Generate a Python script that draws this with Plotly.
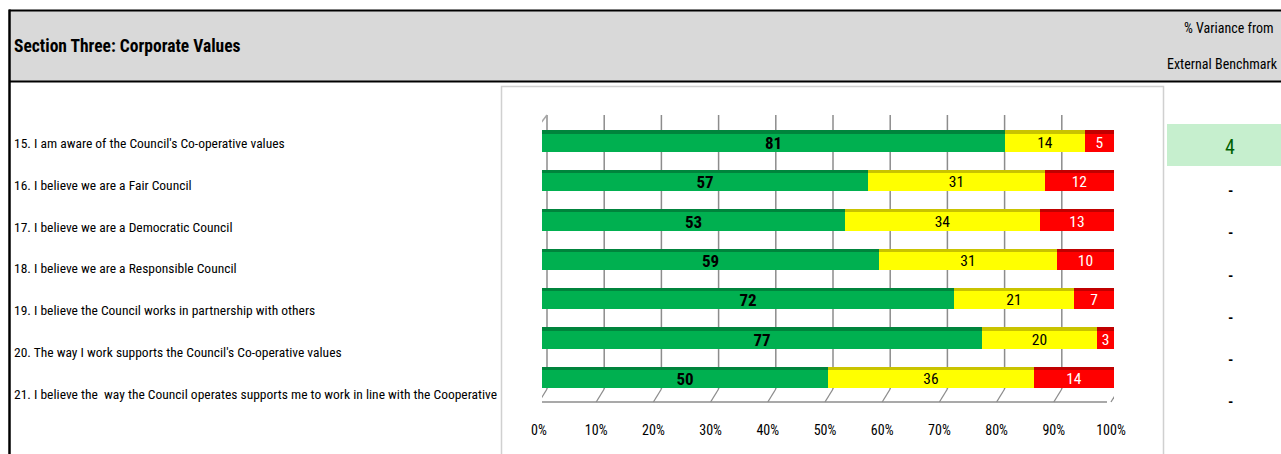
import plotly.graph_objects as go

# ---- survey results (percent of respondents) ----
questions = [
    "15. I am aware of the Council's Co-operative values",
    "16. I believe we are a Fair Council",
    "17. I believe we are a Democratic Council",
    "18. I believe we are a Responsible Council",
    "19. I believe the Council works in partnership with others",
    "20. The way I work supports the Council's Co-operative values",
    "21. I believe the  way the Council operates supports me to work in line with the Cooperative",
]
agree = [81, 57, 53, 59, 72, 77, 50]
neutral = [14, 31, 34, 31, 21, 20, 36]
disagree = [5, 12, 13, 10, 7, 3, 14]
variance = ["4", "-", "-", "-", "-", "-", "-"]
tick_values = [0, 10, 20, 30, 40, 50, 60, 70, 80, 90, 100]
tick_labels = ["0%", "10%", "20%", "30%", "40%", "50%", "60%", "70%", "80%", "90%", "100%"]

title = "Section Three: Corporate Values"
bench_head = ["% Variance from", "External Benchmark"]

# ---- page geometry helpers (pixels -> paper) ----
W, H = 1281, 454
FONT = "Roboto Condensed, Liberation Sans Narrow, DejaVu Sans Condensed, sans-serif"


def px(x):
    return x / W


def py(y):
    return 1 - y / H


rows = list(range(len(questions)))
row_top, row_pitch = 143.0, 39.4      # bar centre of first row / spacing (px)
face_half, strip_w = 0.23, 0.08       # bar half-height and top-bevel thickness (data units)

base_neutral = [a for a in agree]
base_disagree = [a + n for a, n in zip(agree, neutral)]
totals = [a + n + d for a, n, d in zip(agree, neutral, disagree)]

fig = go.Figure()

segments = [
    (agree, [0] * len(agree), "#00b050", "#00843c", dict(color="black", size=17, family=FONT, weight="bold")),
    (neutral, base_neutral, "#ffff00", "#c9c300", dict(color="black", size=15.5, family=FONT)),
    (disagree, base_disagree, "#ff0000", "#c00000", dict(color="white", size=15.5, family=FONT)),
]

for vals, base, face, edge, tfont in segments:
    # bevelled top edge
    fig.add_trace(go.Bar(
        orientation="h", y=rows, x=vals, base=base,
        offset=-face_half - strip_w, width=strip_w,
        marker=dict(color=edge, line=dict(width=0)),
        hoverinfo="skip", showlegend=False,
    ))
    # front face with value label
    fig.add_trace(go.Bar(
        orientation="h", y=rows, x=vals, base=base,
        offset=-face_half, width=2 * face_half,
        marker=dict(color=face, line=dict(width=0)),
        text=[str(v) for v in vals], textposition="inside",
        insidetextanchor="middle", textangle=0, constraintext="none",
        textfont=tfont, showlegend=False,
    ))

# dark side face at the end of each stacked bar
fig.add_trace(go.Bar(
    orientation="h", y=rows, x=[0.5] * len(rows), base=totals,
    offset=-face_half - strip_w, width=2 * face_half + strip_w,
    marker=dict(color="#a00000", line=dict(width=0)),
    hoverinfo="skip", showlegend=False,
))

# ---- decorative shapes: sheet header, chart frame, 3-D walls ----
shapes = []
# header band
shapes.append(dict(type="rect", xref="paper", yref="paper", x0=px(10), x1=px(1281), y0=py(81), y1=py(10),
                   fillcolor="#d9d9d9", line=dict(width=0), layer="below"))
shapes.append(dict(type="line", xref="paper", yref="paper", x0=px(9), x1=px(1281), y0=py(10.5), y1=py(10.5),
                   line=dict(color="black", width=2), layer="below"))
shapes.append(dict(type="line", xref="paper", yref="paper", x0=px(9), x1=px(1281), y0=py(81.5), y1=py(81.5),
                   line=dict(color="black", width=2), layer="below"))
shapes.append(dict(type="line", xref="paper", yref="paper", x0=px(9.5), x1=px(9.5), y0=py(9.5), y1=py(460),
                   line=dict(color="black", width=2.5), layer="below"))
# chart frame
shapes.append(dict(type="rect", xref="paper", yref="paper", x0=px(501.5), x1=px(1163.5), y0=py(470), y1=py(86.5),
                   fillcolor="white", line=dict(color="#d0d0d0", width=1.5), layer="below"))
# benchmark highlight cell
shapes.append(dict(type="rect", xref="paper", yref="paper", x0=px(1167), x1=px(1290), y0=py(166), y1=py(124),
                   fillcolor="#c6efce", line=dict(width=0), layer="below"))

GRID = "#8c8c8c"
back_top, back_bot, front_y = 115, 389, 402
for k in tick_values:
    is_edge = k == tick_values[-1]
    shapes.append(dict(type="line", xref="x", xsizemode="pixel", xanchor=k, x0=5, x1=5,
                       yref="paper", y0=py(back_bot), y1=py(back_top),
                       line=dict(color="#a6a6a6" if is_edge else GRID, width=2.2 if is_edge else 1.5),
                       layer="below"))
    shapes.append(dict(type="line", xref="x", xsizemode="pixel", xanchor=k, x0=5, x1=-3,
                       yref="paper", y0=py(back_bot), y1=py(front_y),
                       line=dict(color=GRID, width=1.3), layer="below"))
# floor front edge
shapes.append(dict(type="line", xref="x", xsizemode="pixel", xanchor=0, x0=-3, x1=565,
                   yref="paper", y0=py(front_y), y1=py(front_y),
                   line=dict(color=GRID, width=1.5), layer="below"))
# left wall front edge and its top bevel
shapes.append(dict(type="line", xref="x", xsizemode="pixel", xanchor=0, x0=-2, x1=-2,
                   yref="paper", y0=py(front_y), y1=py(124),
                   line=dict(color="#a6a6a6", width=1.5), layer="below"))
shapes.append(dict(type="line", xref="x", xsizemode="pixel", xanchor=0, x0=-2, x1=5,
                   yref="paper", y0=py(124), y1=py(back_top),
                   line=dict(color="#a6a6a6", width=1.5), layer="below"))

# ---- text cells ----
ann = []
ann.append(dict(text=title, x=px(12), y=py(46), xref="paper", yref="paper", xanchor="left", yanchor="middle",
                showarrow=False, font=dict(family=FONT, size=17.5, color="black", weight="bold")))
ann.append(dict(text=bench_head[0], x=px(1229), y=py(28), xref="paper", yref="paper",
                xanchor="center", yanchor="middle", showarrow=False,
                font=dict(family=FONT, size=14, color="black")))
ann.append(dict(text=bench_head[1], x=px(1280), y=py(64), xref="paper", yref="paper",
                xanchor="right", yanchor="middle", showarrow=False,
                font=dict(family=FONT, size=14, color="black")))
for i, q in enumerate(questions):
    ann.append(dict(text=q, x=px(12), y=py(143 + 41.8 * i), xref="paper", yref="paper",
                    xanchor="left", yanchor="middle", showarrow=False,
                    font=dict(family=FONT, size=13.5, color="black")))
for i, v in enumerate(variance):
    is_num = v != "-"
    ann.append(dict(text=v, x=px(1230), y=py(147 + 42.2 * i if is_num else 149 + 42.2 * i),
                    xref="paper", yref="paper", xanchor="center", yanchor="middle", showarrow=False,
                    font=dict(family=FONT, size=20 if is_num else 15, color="#006100" if is_num else "black",
                              weight="normal" if is_num else "bold")))

fig.update_layout(
    width=W, height=H,
    margin=dict(l=0, r=0, t=0, b=0, autoexpand=False),
    paper_bgcolor="white", plot_bgcolor="rgba(0,0,0,0)",
    barmode="overlay", bargap=0,
    showlegend=False,
    shapes=shapes, annotations=ann,
    xaxis=dict(domain=[px(542), px(1114)], range=[0, 100], showgrid=False, zeroline=False, showline=False,
               tickmode="array", tickvals=tick_values, ticktext=tick_labels, ticks="",
               ticklabelstandoff=21, ticklabelshift=-3, automargin=False,
               tickfont=dict(family=FONT, size=14, color="black"), fixedrange=True),
    yaxis=dict(domain=[py(row_top + row_pitch * 6.5), py(row_top - row_pitch * 0.5)],
               range=[len(rows) - 0.5, -0.5], showgrid=False, zeroline=False, showline=False,
               showticklabels=False, ticks="", automargin=False, fixedrange=True),
)

fig.write_html("out.html")
